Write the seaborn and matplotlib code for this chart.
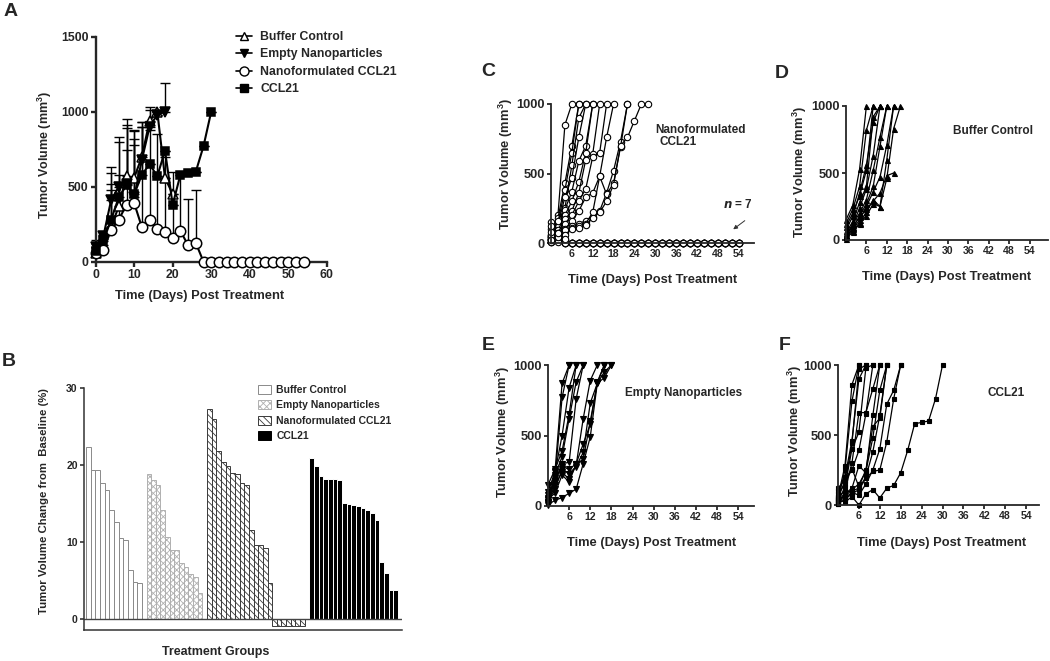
import numpy as np
import pandas as pd
import matplotlib
matplotlib.use("Agg")
import matplotlib.pyplot as plt
import seaborn as sns
from matplotlib.lines import Line2D
from matplotlib.patches import Patch

sns.set_style("ticks")
plt.rcParams['font.family'] = ['Liberation Sans', 'DejaVu Sans']
plt.rcParams['font.weight'] = 'bold'
plt.rcParams['axes.labelweight'] = 'bold'
plt.rcParams['mathtext.default'] = 'regular'
plt.rcParams['hatch.linewidth'] = 0.6

W, H = 1050, 661

# ---------------- Panel A: group means (+SD) ----------------
a_buffer_days = [0, 2, 4, 6, 8, 10, 12, 14, 16, 18, 20]
a_buffer_mean = [60, 110, 230, 370, 570, 560, 700, 940, 1000, 560, 450]
a_buffer_top = [100, 180, 520, 580, 890, 820, 930, 1030, 1000, 560, 450]

a_empty_days = [0, 2, 4, 6, 8, 10, 12, 14, 16, 18]
a_empty_mean = [100, 170, 410, 500, 520, 430, 680, 900, 980, 1000]
a_empty_top = [145, 200, 630, 830, 950, 880, 900, 1010, 980, 1190]

a_nano_days = [0, 2, 4, 6, 8, 10, 12, 14, 16, 18, 20, 22, 24, 26, 28, 30, 32, 34,
               36, 38, 40, 42, 44, 46, 48, 50, 52, 54]
a_nano_mean = [60, 80, 210, 280, 380, 390, 230, 280, 220, 195, 160, 205, 110, 125,
               0, 0, 0, 0, 0, 0, 0, 0, 0, 0, 0, 0, 0, 0]
a_nano_top = [90, 150, 480, 800, 910, 870, 900, 880, 850, 700, 600, 590, 420, 480,
              0, 0, 0, 0, 0, 0, 0, 0, 0, 0, 0, 0, 0, 0]

a_ccl_days = [0, 2, 4, 6, 8, 10, 12, 14, 16, 18, 20, 22, 24, 26, 28, 30]
a_ccl_mean = [70, 140, 280, 430, 510, 450, 580, 650, 570, 740, 380, 580, 590, 600, 770, 1000]
a_ccl_top = [120, 180, 590, 530, 745, 780, 930, 650, 570, 740, 380, 580, 590, 600, 770, 1000]

# ---------------- Panel B: waterfall ----------------
b_groups = ['Buffer Control', 'Empty Nanoparticles', 'Nanoformulated CCL21', 'CCL21']
b_buffer = [22.3, 19.3, 19.3, 17.6, 16.7, 14.1, 12.6, 10.5, 10.3, 6.4, 4.8, 4.6]
b_empty = [18.8, 18.0, 17.4, 14.1, 10.6, 9.0, 9.0, 7.3, 6.8, 5.8, 5.4, 3.4]
b_nano = [27.3, 26.0, 21.8, 20.4, 19.8, 19.0, 18.8, 17.6, 17.4, 11.6, 9.6, 9.6, 9.2, 4.7,
          -0.9, -0.9, -0.9, -0.9, -0.9, -0.9, -0.9]
b_ccl = [20.9, 19.8, 18.5, 18.2, 18.2, 18.2, 18.1, 15.0, 14.9, 14.8, 14.7, 14.4, 14.2,
         13.8, 12.8, 7.4, 6.0, 3.8, 3.8]

# ---------------- Panels C-F: individual mice ----------------
nano_curves = [
    ([0, 2, 4, 6], [40, 200, 850, 1000]),
    ([0, 2, 4, 6, 8], [60, 180, 430, 700, 1000]),
    ([0, 2, 4, 6, 8], [20, 150, 380, 650, 1000]),
    ([0, 2, 4, 6, 8, 10], [30, 100, 250, 560, 900, 1000]),
    ([0, 2, 4, 6, 8, 10], [50, 130, 330, 470, 760, 1000]),
    ([0, 2, 4, 6, 8, 10, 12], [40, 160, 240, 370, 590, 700, 1000]),
    ([0, 2, 4, 6, 8, 10, 12], [10, 90, 200, 300, 440, 650, 1000]),
    ([0, 2, 4, 6, 8, 10, 12, 14], [30, 70, 170, 230, 360, 600, 640, 1000]),
    ([0, 2, 4, 6, 8, 10, 12, 14, 16], [20, 60, 140, 200, 300, 390, 620, 650, 1000]),
    ([0, 2, 4, 6, 8, 10, 12, 14, 16, 18], [10, 50, 100, 160, 230, 330, 360, 480, 760, 1000]),
    ([0, 2, 4, 6, 8, 10, 12, 14, 16, 18, 20, 22],
     [20, 40, 80, 120, 140, 160, 190, 230, 360, 520, 730, 1000]),
    ([0, 2, 4, 6, 8, 10, 12, 14, 16, 18, 20, 22],
     [30, 60, 90, 110, 120, 140, 220, 480, 350, 430, 690, 1000]),
    ([0, 2, 4, 6, 8, 10, 12, 14, 16, 18, 20, 22, 24, 26, 28],
     [10, 30, 60, 100, 110, 130, 180, 220, 300, 420, 700, 760, 880, 1000, 1000]),
]
nano_zero_early = [
    [40, 20, 0],
    [60, 30, 0],
    [100, 50, 10],
    [150, 60, 20],
    [20, 10, 0],
    [80, 40, 0],
    [120, 70, 30],
]
nano_zero_early_days = [0, 2, 4]
nano_zero_tail_days = [6, 8, 10, 12, 14, 16, 18, 20, 22, 24, 26, 28, 30, 32, 34, 36,
                       38, 40, 42, 44, 46, 48, 50, 52, 54]
nano_zero_tail = [0, 0, 0, 0, 0, 0, 0, 0, 0, 0, 0, 0, 0, 0, 0, 0,
                  0, 0, 0, 0, 0, 0, 0, 0, 0]

buffer_curves = [
    ([0, 2, 4, 6], [150, 260, 530, 1000]),
    ([0, 2, 4, 6, 8], [100, 200, 330, 520, 1000]),
    ([0, 2, 4, 6, 8], [120, 230, 400, 820, 1000]),
    ([0, 2, 4, 6, 8, 10], [50, 140, 280, 400, 920, 1000]),
    ([0, 2, 4, 6, 8, 10], [70, 180, 350, 560, 880, 1000]),
    ([0, 2, 4, 6, 8, 10], [30, 110, 240, 380, 630, 1000]),
    ([0, 2, 4, 6, 8, 10, 12], [40, 120, 200, 300, 520, 770, 1000]),
    ([0, 2, 4, 6, 8, 10, 12], [20, 90, 180, 270, 400, 700, 1000]),
    ([0, 2, 4, 6, 8, 10, 12, 14], [30, 80, 150, 250, 360, 470, 710, 1000]),
    ([0, 2, 4, 6, 8, 10, 12, 14], [10, 60, 120, 210, 300, 250, 600, 1000]),
    ([0, 2, 4, 6, 8, 10, 12, 14, 16], [20, 70, 130, 180, 270, 250, 460, 830, 1000]),
    ([0, 2, 4, 6, 8, 10, 12, 14], [40, 100, 170, 230, 290, 350, 480, 500]),
]

empty_curves = [
    ([0, 2, 4, 6], [60, 250, 870, 1000]),
    ([0, 2, 4, 6], [30, 200, 770, 1000]),
    ([0, 2, 4, 6, 8], [100, 240, 500, 840, 1000]),
    ([0, 2, 4, 6, 8], [150, 260, 390, 650, 1000]),
    ([0, 2, 4, 6, 8, 10], [40, 220, 350, 620, 880, 1000]),
    ([0, 2, 4, 6, 8, 10], [80, 180, 300, 310, 760, 1000]),
    ([0, 2, 4, 6, 8, 10, 12, 14], [20, 150, 240, 190, 290, 620, 890, 1000]),
    ([0, 2, 4, 6, 8, 10, 12, 14, 16], [30, 120, 260, 230, 280, 380, 730, 870, 1000]),
    ([0, 2, 4, 6, 8, 10, 12, 14, 16, 18], [50, 90, 220, 170, 300, 330, 600, 870, 910, 1000]),
    ([0, 2, 4, 6, 8, 10, 12, 14, 16, 18], [10, 40, 60, 90, 120, 300, 490, 870, 950, 1000]),
    ([0, 2, 4, 6, 8, 10, 12, 14, 16], [20, 180, 280, 260, 300, 440, 580, 880, 1000]),
]

ccl_curves = [
    ([0, 2, 4, 6], [60, 280, 860, 1000]),
    ([0, 2, 4, 6], [30, 250, 740, 1000]),
    ([0, 2, 4, 6, 8], [100, 200, 460, 900, 1000]),
    ([0, 2, 4, 6, 8], [80, 150, 440, 970, 1000]),
    ([0, 2, 4, 6, 8, 10], [20, 130, 400, 520, 980, 1000]),
    ([0, 2, 4, 6, 8, 10], [50, 170, 250, 390, 650, 1000]),
    ([0, 2, 4, 6, 8, 10, 12], [60, 100, 300, 660, 660, 830, 1000]),
    ([0, 2, 4, 6, 8, 10, 12], [10, 80, 120, 280, 230, 640, 1000]),
    ([0, 2, 4, 6, 8, 10, 12, 14], [40, 60, 110, 150, 240, 480, 820, 1000]),
    ([0, 2, 4, 6, 8, 10, 12, 14], [20, 90, 100, 120, 200, 380, 640, 1000]),
    ([0, 2, 4, 6, 8, 10, 12, 14], [120, 180, 260, 130, 250, 560, 620, 1000]),
    ([0, 2, 4, 6, 8, 10, 12, 14, 16, 18], [30, 50, 90, 70, 150, 250, 400, 720, 820, 1000]),
    ([0, 2, 4, 6, 8, 10, 12, 14, 16, 18], [10, 40, 80, 110, 190, 240, 250, 450, 760, 1000]),
    ([0, 2, 4, 6, 8, 10, 12, 14, 16, 18, 20, 22, 24, 26, 28, 30],
     [40, 20, 60, 0, 80, 110, 50, 120, 140, 230, 390, 580, 590, 600, 760, 1000]),
]


def add_ax(fig, left, top, right, bottom):
    return fig.add_axes([left / W, 1 - bottom / H, (right - left) / W, (bottom - top) / H])


def style_ax(ax, lw=1.4):
    sns.despine(ax=ax)
    for s in ['left', 'bottom']:
        ax.spines[s].set_linewidth(lw)
    ax.tick_params(direction='out', length=3.5, width=lw, pad=1.5)


def curves_frame(curves):
    rows = []
    for i, (d, v) in enumerate(curves):
        for x, y in zip(d, v):
            rows.append((i, x, y))
    return pd.DataFrame(rows, columns=['mouse', 'day', 'volume'])


def label(fig, x, y, text, size=9.3, rotation=0, **kw):
    fig.text(x / W, 1 - y / H, text, ha='center', va='center', rotation=rotation,
             fontsize=size, fontweight='bold', **kw)


fig = plt.figure(figsize=(W / 100, H / 100), dpi=100)

# ---- Panel A ----
axA = add_ax(fig, 95.7, 36.7, 326.7, 261.7)
series_a = [
    (a_buffer_days, a_buffer_mean, a_buffer_top, '^', 'white', 7),
    (a_empty_days, a_empty_mean, a_empty_top, 'v', 'black', 6.5),
    (a_nano_days, a_nano_mean, a_nano_top, 'o', 'white', 7.5),
    (a_ccl_days, a_ccl_mean, a_ccl_top, 's', 'black', 6),
]
for days, mean, top, mk, fc, ms in series_a:
    mean = np.array(mean, dtype=float)
    up = np.array(top, dtype=float) - mean
    axA.errorbar(days, mean, yerr=[np.zeros_like(up), up], fmt='none', ecolor='black',
                 elinewidth=1, capsize=3.5, capthick=1, zorder=1, clip_on=False)
for days, mean, top, mk, fc, ms in series_a:
    dfa = pd.DataFrame({'day': days, 'volume': mean})
    sns.lineplot(data=dfa, x='day', y='volume', ax=axA, color='black', lw=1.5,
                 marker=mk, ms=ms, mfc=fc, mec='black', mew=1.1, clip_on=False, zorder=3)
axA.set_xlim(0, 60)
axA.set_ylim(0, 1500)
axA.set_xticks([0, 10, 20, 30, 40, 50, 60])
axA.set_yticks([0, 500, 1000, 1500])
axA.set_xlabel('')
axA.set_ylabel('')
style_ax(axA, lw=1.7)
axA.tick_params(labelsize=8.8)
handles_a = [
    Line2D([], [], color='black', lw=1.2, marker='^', ms=6, mfc='white', mec='black'),
    Line2D([], [], color='black', lw=1.2, marker='v', ms=6, mfc='black', mec='black'),
    Line2D([], [], color='black', lw=1.2, marker='o', ms=6.5, mfc='white', mec='black'),
    Line2D([], [], color='black', lw=1.2, marker='s', ms=5.5, mfc='black', mec='black'),
]
axA.legend(handles_a, b_groups, loc='upper left', bbox_to_anchor=(236 / W, 1 - 31 / H),
           bbox_transform=fig.transFigure, frameon=False, fontsize=8.8, handlelength=1.3,
           handletextpad=0.7, labelspacing=0.45, borderpad=0, borderaxespad=0)
label(fig, 45, 155, 'Tumor Volume (mm$^3$)', size=9, rotation=90)
label(fig, 200, 296, 'Time (Days) Post Treatment', size=9.3)

# ---- Panel B ----
axB = add_ax(fig, 84, 388, 402, 630)
b_styles = [
    (b_buffer, 'white', '#8a8a8a', None),
    (b_empty, 'white', '#b0b0b0', 'xxxxx'),
    (b_nano, 'white', '#3a3a3a', '\\\\\\\\\\'),
    (b_ccl, 'black', 'white', None),
]
start = 0
for vals, fc, ec, hatch in b_styles:
    pos = start + np.arange(len(vals))
    axB.bar(pos, vals, width=1.0, facecolor=fc, edgecolor=ec, hatch=hatch, lw=0.7)
    start += len(vals) + 1
axB.axhline(0, color='#444444', lw=1.0)
axB.set_xlim(-0.93, 67.4)
axB.set_ylim(-1.45, 30)
axB.set_yticks([0, 10, 20, 30])
axB.set_xticks([])
style_ax(axB, lw=1.1)
for s in ['left', 'bottom']:
    axB.spines[s].set_color('#333333')
axB.tick_params(labelsize=7.5, length=3)
handles_b = [Patch(facecolor=fc, edgecolor=(ec if fc == 'white' else 'black'), hatch=hatch, lw=0.7)
             for vals, fc, ec, hatch in b_styles]
axB.legend(handles_b, b_groups, loc='upper left', bbox_to_anchor=(258 / W, 1 - 385 / H),
           bbox_transform=fig.transFigure, frameon=False, fontsize=7.5, handlelength=1.25,
           handleheight=0.95, handletextpad=0.5, labelspacing=0.5, borderpad=0,
           borderaxespad=0)
label(fig, 44, 501, 'Tumor Volume Change from  Baseline (%)', size=8.2, rotation=90)
label(fig, 216, 652, 'Treatment Groups', size=9)

# ---- Panels C-F ----
nano_all = list(nano_curves)
for early in nano_zero_early:
    nano_all.append((nano_zero_early_days + nano_zero_tail_days, early + nano_zero_tail))

panels = [
    # curves, box (l, t, r, b), xmax, marker, face, ms
    (nano_all, (551, 104, 754, 243), 58.4, 'o', 'white', 4.6),
    (buffer_curves, (846, 106, 1048, 240), 59.4, '^', 'black', 3.6),
    (empty_curves, (548, 365, 754, 506), 58.5, 'v', 'black', 4.0),
    (ccl_curves, (838, 365, 1039, 505), 57.7, 's', 'black', 3.4),
]
for curves, box, xmax, mk, fc, ms in panels:
    ax = add_ax(fig, *box)
    dfc = curves_frame(curves)
    sns.lineplot(data=dfc, x='day', y='volume', units='mouse', estimator=None, ax=ax,
                 color='black', lw=0.9, marker=mk, ms=ms, mfc=fc, mec='black', mew=0.8,
                 clip_on=False, legend=False)
    ax.set_xlim(0, xmax)
    ax.set_ylim(0, 1000)
    ax.set_xticks([6, 12, 18, 24, 30, 36, 42, 48, 54])
    ax.set_yticks([0, 500, 1000])
    ax.set_xlabel('')
    ax.set_ylabel('')
    style_ax(ax, lw=1.3)
    ax.tick_params(axis='x', labelsize=7.6, length=3)
    ax.tick_params(axis='y', labelsize=9.3, length=3)

label(fig, 506, 164, 'Tumor Volume (mm$^3$)', size=9.3, rotation=90)
label(fig, 653, 280, 'Time (Days) Post Treatment', size=9.3)
label(fig, 800, 172, 'Tumor Volume (mm$^3$)', size=9.3, rotation=90)
label(fig, 947, 277, 'Time (Days) Post Treatment', size=9.3)
label(fig, 503, 432, 'Tumor Volume (mm$^3$)', size=9.3, rotation=90)
label(fig, 652, 543, 'Time (Days) Post Treatment', size=9.3)
label(fig, 795, 431, 'Tumor Volume (mm$^3$)', size=9.3, rotation=90)
label(fig, 942, 543, 'Time (Days) Post Treatment', size=9.3)

label(fig, 700, 130, 'Nanoformulated', size=8.5)
label(fig, 678, 142, 'CCL21', size=8.5)
label(fig, 738, 204, '$\\it{n}$ = 7', size=8.5)
fig.add_artist(matplotlib.patches.FancyArrowPatch(
    (747 / W, 1 - 219 / H), (731 / W, 1 - 231 / H), transform=fig.transFigure,
    arrowstyle='-|>', mutation_scale=6, color='#333333', lw=0.7))
label(fig, 993, 131, 'Buffer Control', size=8.5)
label(fig, 684, 393, 'Empty Nanoparticles', size=8.5)
label(fig, 1006, 393, 'CCL21', size=8.5)

for letter, x, y in [('A', 11, 12), ('B', 9, 361), ('C', 488, 72), ('D', 782, 73),
                     ('E', 488, 345), ('F', 785, 345)]:
    label(fig, x, y, letter, size=14)

fig.savefig('out.png', dpi=100)
